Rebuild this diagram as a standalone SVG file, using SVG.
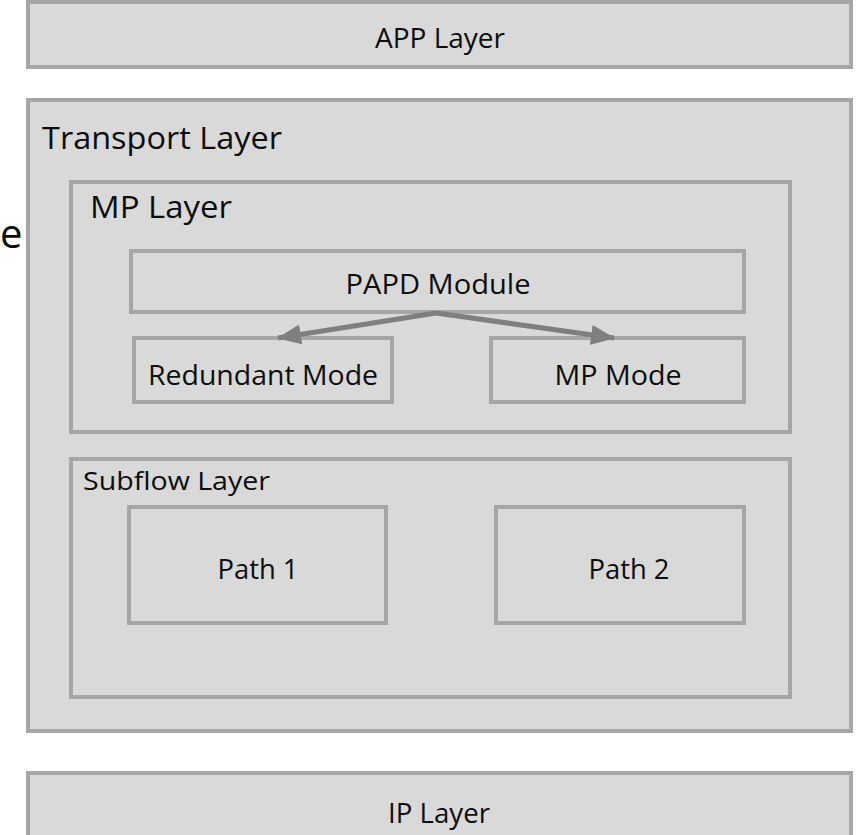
<svg xmlns="http://www.w3.org/2000/svg" width="856" height="835" viewBox="0 0 856 835">
  <style>
    .box { fill: #d9d9d9; stroke: #a6a6a6; stroke-width: 4; }
    .lbl { font-family: "Open Sans", "Noto Sans", "Liberation Sans", sans-serif; fill: #0d0d0d; }
    .mid { text-anchor: middle; dominant-baseline: central; font-size: 27px; }
    .title { font-size: 31px; }
    .sub { font-size: 26px; }
    .link { fill: none; stroke: #7f7f7f; stroke-width: 5; }
  </style>
  <defs>
    <marker id="arrow" viewBox="0 0 24 20" refX="23" refY="10" markerWidth="24" markerHeight="20" markerUnits="userSpaceOnUse" orient="auto">
      <path d="M0,0 L24,10 L0,20 z" fill="#7f7f7f"/>
    </marker>
  </defs>
  <rect width="856" height="835" fill="#ffffff"/>

  <!-- word fragment at the left edge -->
  <text class="lbl" x="0" y="248" font-size="40">e</text>

  <g id="app-layer">
    <rect class="box" x="28" y="2" width="823" height="65"/>
    <text class="lbl mid" x="440" y="37" textLength="130" lengthAdjust="spacingAndGlyphs">APP Layer</text>
  </g>

  <g id="transport-layer">
    <rect class="box" x="28" y="100" width="823" height="631"/>
    <text class="lbl title" x="42" y="149" textLength="240" lengthAdjust="spacingAndGlyphs">Transport Layer</text>
  </g>

  <g id="mp-layer">
    <rect class="box" x="71" y="182" width="719" height="250"/>
    <text class="lbl title" x="90" y="218" textLength="142" lengthAdjust="spacingAndGlyphs">MP Layer</text>
  </g>

  <g id="papd-module">
    <rect class="box" x="131" y="251" width="613" height="61"/>
    <text class="lbl mid" x="438" y="283" textLength="185" lengthAdjust="spacingAndGlyphs">PAPD Module</text>
  </g>

  <g id="redundant-mode">
    <rect class="box" x="134" y="338" width="258" height="64"/>
    <text class="lbl mid" x="263" y="374" textLength="230" lengthAdjust="spacingAndGlyphs">Redundant Mode</text>
  </g>

  <g id="mp-mode">
    <rect class="box" x="491" y="338" width="253" height="64"/>
    <text class="lbl mid" x="618" y="374" textLength="127" lengthAdjust="spacingAndGlyphs">MP Mode</text>
  </g>

  <g id="subflow-layer">
    <rect class="box" x="71" y="459" width="719" height="238"/>
    <text class="lbl sub" x="83" y="490" textLength="187" lengthAdjust="spacingAndGlyphs">Subflow Layer</text>
  </g>

  <g id="path-1">
    <rect class="box" x="129" y="507" width="257" height="116"/>
    <text class="lbl mid" x="258" y="568" textLength="81" lengthAdjust="spacingAndGlyphs">Path 1</text>
  </g>

  <g id="path-2">
    <rect class="box" x="496" y="507" width="248" height="116"/>
    <text class="lbl mid" x="629" y="568" textLength="81" lengthAdjust="spacingAndGlyphs">Path 2</text>
  </g>

  <g id="ip-layer">
    <rect class="box" x="28" y="773" width="823" height="70"/>
    <text class="lbl mid" x="439" y="812" textLength="102" lengthAdjust="spacingAndGlyphs">IP Layer</text>
  </g>

  <g id="connectors">
    <path class="link" d="M436,313 L278,338" marker-end="url(#arrow)"/>
    <path class="link" d="M436,313 L614,338" marker-end="url(#arrow)"/>
  </g>
</svg>
